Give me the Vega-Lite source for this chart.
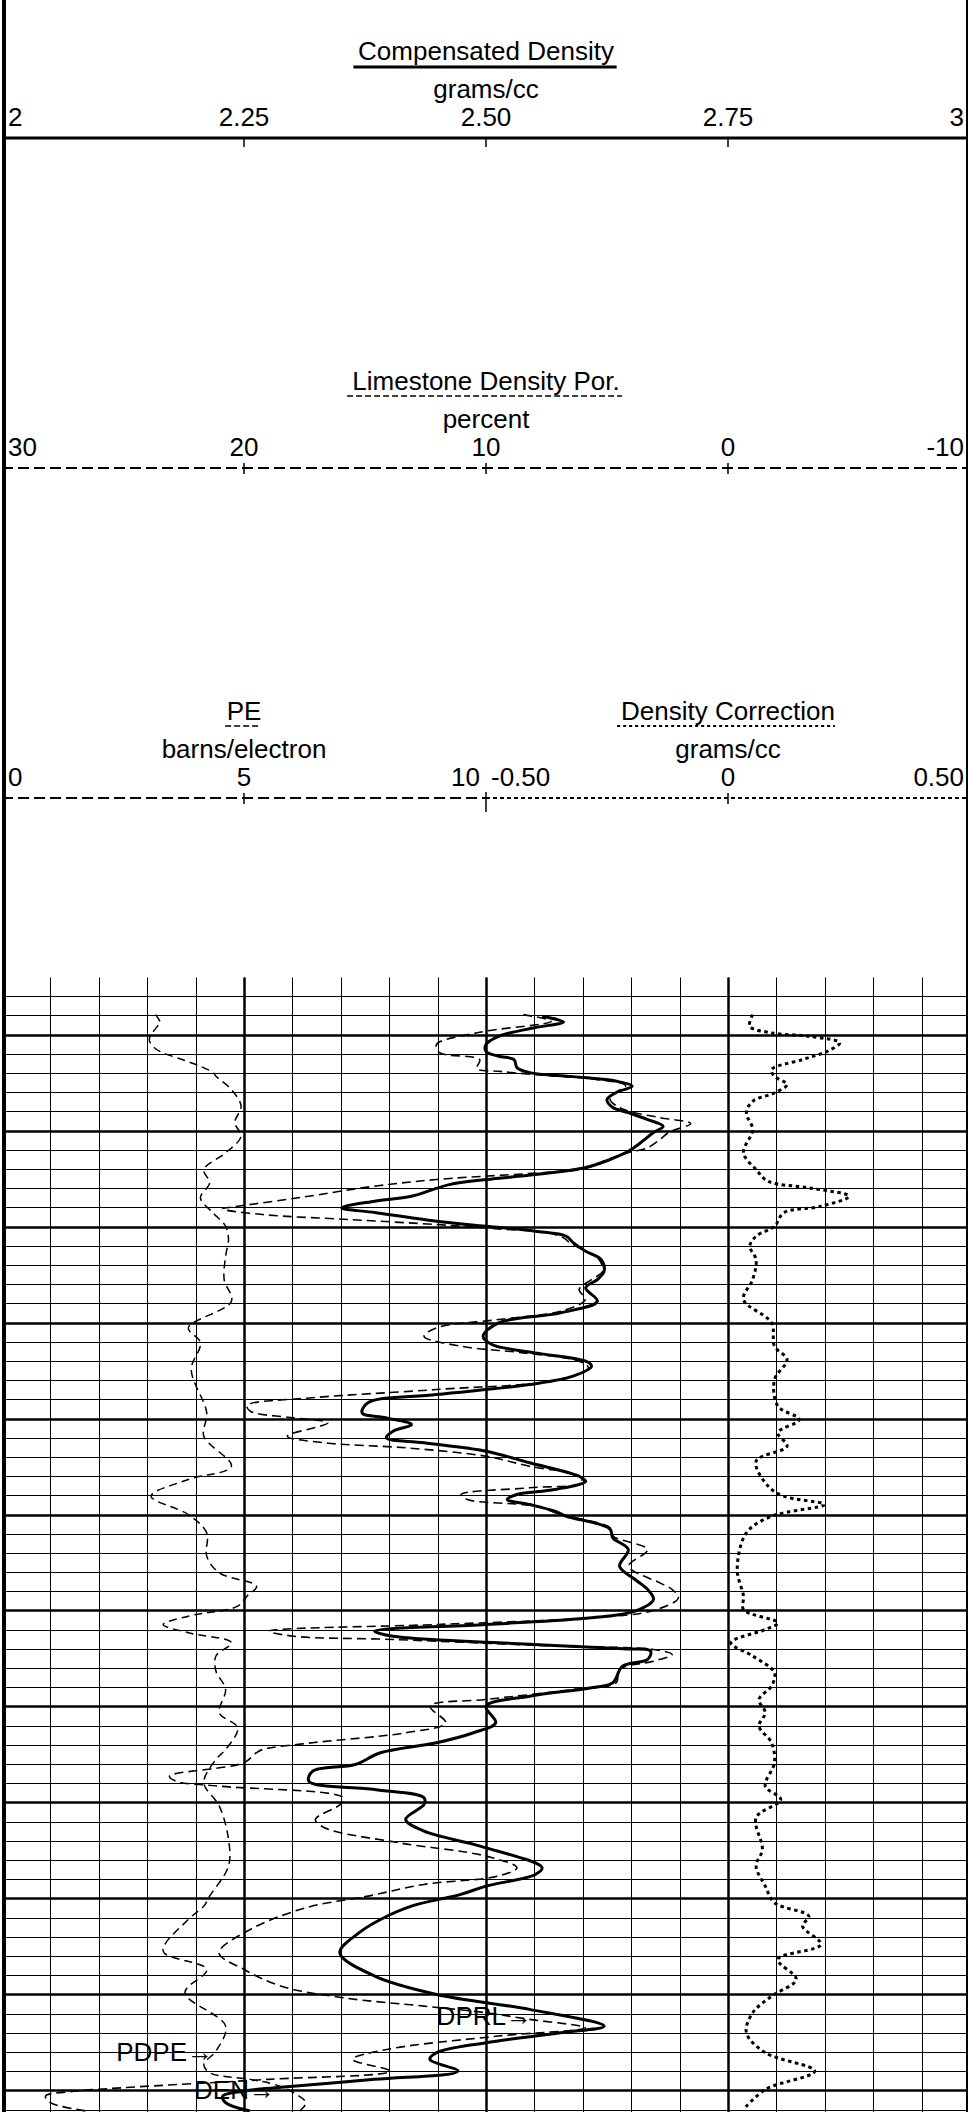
{
"$schema": "https://vega.github.io/schema/vega-lite/v6.json",
"background": "white",
"padding": 0,
"spacing": 0,
"config": {"view": {"stroke": null, "fill": "white"}, "font": "Liberation Sans", "text": {"font": "Liberation Sans", "color": "black"}},
"datasets": {
"cdTicks": [{"v":2,"t":"2"},{"v":2.25,"t":"2.25"},{"v":2.5,"t":"2.50"},{"v":2.75,"t":"2.75"},{"v":3,"t":"3"}],
"lsTicks": [{"v":30,"t":"30"},{"v":20,"t":"20"},{"v":10,"t":"10"},{"v":0,"t":"0"},{"v":-10,"t":"-10"}],
"peTicks": [{"v":0,"t":"0"},{"v":5,"t":"5"},{"v":10,"t":"10"}],
"dcTicks": [{"v":-0.5,"t":"-0.50"},{"v":0,"t":"0"},{"v":0.5,"t":"0.50"}],
"labels": [{"curve":"DPRL","text":"DPRL→","depth":112.4,"value":8.1},{"curve":"PDPE","text":"PDPE→","depth":116.15,"value":4.36},{"curve":"DEN","text":"DEN→","depth":120.07,"value":2.282}],
"den": [{"depth":8.09,"value":2.558},{"depth":8.68,"value":2.58},{"depth":9.27,"value":2.551},{"depth":10.18,"value":2.513},{"depth":11.04,"value":2.5},{"depth":11.74,"value":2.5},{"depth":12.26,"value":2.513},{"depth":12.6,"value":2.529},{"depth":13.44,"value":2.532},{"depth":13.96,"value":2.545},{"depth":14.38,"value":2.59},{"depth":14.86,"value":2.635},{"depth":15.39,"value":2.651},{"depth":16.01,"value":2.635},{"depth":16.77,"value":2.625},{"depth":17.6,"value":2.631},{"depth":18.13,"value":2.647},{"depth":18.85,"value":2.667},{"depth":19.55,"value":2.683},{"depth":20.21,"value":2.673},{"depth":21.25,"value":2.66},{"depth":22.16,"value":2.647},{"depth":23.02,"value":2.628},{"depth":23.85,"value":2.603},{"depth":24.58,"value":2.551},{"depth":25.1,"value":2.5},{"depth":25.63,"value":2.462},{"depth":26.84,"value":2.423},{"depth":27.36,"value":2.385},{"depth":28.05,"value":2.351},{"depth":28.54,"value":2.385},{"depth":29.45,"value":2.449},{"depth":29.97,"value":2.5},{"depth":30.49,"value":2.551},{"depth":31.01,"value":2.583},{"depth":31.67,"value":2.59},{"depth":32.57,"value":2.603},{"depth":33.44,"value":2.619},{"depth":34.66,"value":2.622},{"depth":35.52,"value":2.615},{"depth":36.39,"value":2.603},{"depth":37.78,"value":2.615},{"depth":38.99,"value":2.577},{"depth":40.03,"value":2.513},{"depth":41.43,"value":2.497},{"depth":42.29,"value":2.506},{"depth":43.16,"value":2.551},{"depth":44.03,"value":2.603},{"depth":44.55,"value":2.609},{"depth":45.59,"value":2.59},{"depth":46.46,"value":2.545},{"depth":47.5,"value":2.449},{"depth":48.36,"value":2.378},{"depth":49.41,"value":2.372},{"depth":49.93,"value":2.397},{"depth":50.63,"value":2.423},{"depth":51.32,"value":2.404},{"depth":52.01,"value":2.397},{"depth":52.53,"value":2.436},{"depth":53.41,"value":2.5},{"depth":54.61,"value":2.545},{"depth":56.01,"value":2.596},{"depth":56.53,"value":2.603},{"depth":57.4,"value":2.571},{"depth":57.92,"value":2.532},{"depth":58.44,"value":2.522},{"depth":58.96,"value":2.545},{"depth":59.66,"value":2.571},{"depth":60.18,"value":2.583},{"depth":61.49,"value":2.628},{"depth":62.43,"value":2.631},{"depth":63.65,"value":2.647},{"depth":65.39,"value":2.638},{"depth":66.77,"value":2.654},{"depth":67.81,"value":2.667},{"depth":68.85,"value":2.673},{"depth":70.07,"value":2.654},{"depth":70.76,"value":2.609},{"depth":71.46,"value":2.5},{"depth":72.16,"value":2.385},{"depth":72.68,"value":2.404},{"depth":73.36,"value":2.513},{"depth":73.99,"value":2.641},{"depth":74.24,"value":2.67},{"depth":75.1,"value":2.667},{"depth":75.8,"value":2.641},{"depth":77.53,"value":2.631},{"depth":78.05,"value":2.609},{"depth":78.93,"value":2.545},{"depth":79.97,"value":2.5},{"depth":81.7,"value":2.51},{"depth":82.74,"value":2.487},{"depth":83.78,"value":2.449},{"depth":84.82,"value":2.391},{"depth":86.04,"value":2.365},{"depth":86.74,"value":2.321},{"depth":87.78,"value":2.317},{"depth":88.65,"value":2.385},{"depth":89.51,"value":2.436},{"depth":90.21,"value":2.436},{"depth":91.77,"value":2.417},{"depth":92.99,"value":2.436},{"depth":94.55,"value":2.494},{"depth":96.8,"value":2.558},{"depth":97.5,"value":2.551},{"depth":98.72,"value":2.5},{"depth":99.58,"value":2.474},{"depth":100.8,"value":2.423},{"depth":102.19,"value":2.391},{"depth":103.57,"value":2.369},{"depth":105.66,"value":2.349},{"depth":108.09,"value":2.385},{"depth":110.0,"value":2.449},{"depth":111.56,"value":2.545},{"depth":113.3,"value":2.622},{"depth":113.99,"value":2.577},{"depth":115.03,"value":2.5},{"depth":116.07,"value":2.449},{"depth":116.77,"value":2.442},{"depth":117.99,"value":2.471},{"depth":118.85,"value":2.385},{"depth":119.72,"value":2.282},{"depth":120.07,"value":2.25},{"depth":120.59,"value":2.228},{"depth":121.28,"value":2.231},{"depth":122.15,"value":2.256}],
"dprl": [{"depth":7.92,"value":8.46},{"depth":8.61,"value":7.31},{"depth":9.76,"value":10.26},{"depth":11.04,"value":12.05},{"depth":11.88,"value":11.92},{"depth":12.6,"value":10.26},{"depth":13.54,"value":10.38},{"depth":13.82,"value":9.49},{"depth":14.17,"value":7.95},{"depth":14.69,"value":5.38},{"depth":15.31,"value":4.23},{"depth":16.01,"value":4.62},{"depth":16.77,"value":4.87},{"depth":17.6,"value":4.49},{"depth":17.99,"value":4.1},{"depth":18.65,"value":2.82},{"depth":19.27,"value":1.54},{"depth":20.18,"value":2.44},{"depth":20.94,"value":2.82},{"depth":21.8,"value":3.33},{"depth":22.29,"value":4.1},{"depth":23.02,"value":5.0},{"depth":23.96,"value":5.9},{"depth":24.34,"value":7.44},{"depth":25.1,"value":12.05},{"depth":25.8,"value":14.62},{"depth":26.98,"value":17.69},{"depth":27.89,"value":20.26},{"depth":28.16,"value":20.9},{"depth":28.75,"value":19.23},{"depth":29.27,"value":15.64},{"depth":29.79,"value":12.05},{"depth":30.24,"value":9.49},{"depth":30.66,"value":7.44},{"depth":31.18,"value":6.79},{"depth":31.67,"value":6.54},{"depth":32.57,"value":5.9},{"depth":33.44,"value":5.33},{"depth":34.66,"value":5.18},{"depth":35.52,"value":5.64},{"depth":36.56,"value":6.15},{"depth":37.6,"value":5.9},{"depth":38.82,"value":6.92},{"depth":39.69,"value":9.49},{"depth":40.55,"value":12.05},{"depth":41.43,"value":12.56},{"depth":42.47,"value":11.03},{"depth":43.16,"value":8.46},{"depth":44.03,"value":6.15},{"depth":44.72,"value":5.77},{"depth":45.94,"value":6.92},{"depth":46.98,"value":12.05},{"depth":47.84,"value":17.18},{"depth":48.65,"value":19.87},{"depth":49.24,"value":19.74},{"depth":49.93,"value":17.95},{"depth":50.45,"value":16.54},{"depth":51.84,"value":18.21},{"depth":52.53,"value":16.67},{"depth":53.05,"value":13.33},{"depth":53.93,"value":10.0},{"depth":54.97,"value":8.21},{"depth":56.01,"value":6.15},{"depth":56.7,"value":6.03},{"depth":57.22,"value":8.21},{"depth":57.92,"value":11.03},{"depth":58.44,"value":10.77},{"depth":59.13,"value":7.95},{"depth":60.0,"value":6.92},{"depth":61.39,"value":4.87},{"depth":62.26,"value":4.74},{"depth":63.65,"value":3.33},{"depth":65.39,"value":4.1},{"depth":67.12,"value":2.82},{"depth":67.81,"value":2.31},{"depth":68.68,"value":2.05},{"depth":70.0,"value":3.08},{"depth":70.76,"value":5.64},{"depth":71.46,"value":12.05},{"depth":72.16,"value":18.97},{"depth":72.68,"value":17.95},{"depth":73.02,"value":13.85},{"depth":73.72,"value":6.92},{"depth":74.06,"value":3.08},{"depth":74.58,"value":2.31},{"depth":75.28,"value":3.08},{"depth":76.15,"value":4.49},{"depth":77.53,"value":4.62},{"depth":78.23,"value":6.41},{"depth":79.27,"value":10.0},{"depth":79.97,"value":12.31},{"depth":81.7,"value":11.67},{"depth":82.74,"value":13.33},{"depth":83.78,"value":17.18},{"depth":84.48,"value":19.23},{"depth":84.82,"value":19.49},{"depth":85.86,"value":20.0},{"depth":87.26,"value":23.08},{"depth":87.78,"value":22.82},{"depth":88.3,"value":21.03},{"depth":89.51,"value":15.9},{"depth":90.21,"value":16.03},{"depth":91.77,"value":17.05},{"depth":92.64,"value":16.67},{"depth":94.2,"value":13.59},{"depth":95.59,"value":10.0},{"depth":96.8,"value":8.72},{"depth":97.67,"value":9.49},{"depth":98.54,"value":12.56},{"depth":99.76,"value":14.87},{"depth":100.97,"value":17.44},{"depth":103.23,"value":19.74},{"depth":105.66,"value":21.03},{"depth":107.4,"value":20.0},{"depth":109.14,"value":18.46},{"depth":110.35,"value":15.9},{"depth":111.22,"value":12.56},{"depth":111.91,"value":10.0},{"depth":112.6,"value":8.21},{"depth":113.47,"value":5.9},{"depth":114.34,"value":9.49},{"depth":115.73,"value":14.1},{"depth":116.77,"value":15.51},{"depth":117.99,"value":13.97},{"depth":118.85,"value":19.0},{"depth":119.72,"value":25.0},{"depth":120.07,"value":26.9},{"depth":120.59,"value":28.2},{"depth":121.28,"value":28.0},{"depth":122.15,"value":26.5}],
"pe": [{"depth":7.92,"value":3.17},{"depth":8.78,"value":3.27},{"depth":9.14,"value":3.21},{"depth":10.31,"value":3.05},{"depth":10.7,"value":3.05},{"depth":11.35,"value":3.14},{"depth":11.91,"value":3.33},{"depth":12.6,"value":3.72},{"depth":13.3,"value":4.1},{"depth":13.96,"value":4.36},{"depth":14.34,"value":4.42},{"depth":15.73,"value":4.74},{"depth":17.47,"value":4.94},{"depth":19.17,"value":4.81},{"depth":20.59,"value":4.94},{"depth":22.32,"value":4.62},{"depth":24.06,"value":4.17},{"depth":25.45,"value":4.29},{"depth":27.01,"value":4.1},{"depth":28.57,"value":4.36},{"depth":29.97,"value":4.62},{"depth":31.35,"value":4.68},{"depth":33.09,"value":4.62},{"depth":35.52,"value":4.59},{"depth":37.78,"value":4.74},{"depth":40.55,"value":3.85},{"depth":42.11,"value":4.1},{"depth":44.9,"value":3.91},{"depth":49.41,"value":4.23},{"depth":51.84,"value":4.17},{"depth":54.97,"value":4.74},{"depth":56.35,"value":3.85},{"depth":58.09,"value":3.08},{"depth":60.0,"value":3.85},{"depth":61.91,"value":4.23},{"depth":64.34,"value":4.23},{"depth":66.08,"value":4.49},{"depth":67.47,"value":5.26},{"depth":68.51,"value":5.06},{"depth":69.55,"value":4.87},{"depth":70.59,"value":3.85},{"depth":71.46,"value":3.33},{"depth":72.32,"value":3.85},{"depth":73.36,"value":4.74},{"depth":74.74,"value":4.42},{"depth":76.3,"value":4.42},{"depth":78.23,"value":4.62},{"depth":80.66,"value":4.49},{"depth":82.22,"value":4.87},{"depth":84.48,"value":4.62},{"depth":85.52,"value":4.42},{"depth":87.95,"value":4.17},{"depth":90.38,"value":4.49},{"depth":93.85,"value":4.68},{"depth":96.63,"value":4.68},{"depth":99.76,"value":4.29},{"depth":100.8,"value":4.17},{"depth":102.19,"value":3.85},{"depth":105.49,"value":3.33},{"depth":107.4,"value":4.23},{"depth":109.82,"value":3.78},{"depth":113.3,"value":4.62},{"depth":115.9,"value":4.42},{"depth":117.29,"value":4.17},{"depth":118.15,"value":4.29},{"depth":118.85,"value":5.13},{"depth":119.4,"value":5.64},{"depth":120.25,"value":6.03},{"depth":121.3,"value":6.28},{"depth":122.15,"value":6.15}],
"dc": [{"depth":7.92,"value":0.051},{"depth":9.14,"value":0.045},{"depth":9.82,"value":0.09},{"depth":10.18,"value":0.167},{"depth":10.86,"value":0.231},{"depth":11.74,"value":0.205},{"depth":12.6,"value":0.154},{"depth":13.65,"value":0.09},{"depth":14.34,"value":0.096},{"depth":15.21,"value":0.122},{"depth":16.07,"value":0.096},{"depth":16.95,"value":0.051},{"depth":18.16,"value":0.038},{"depth":19.9,"value":0.051},{"depth":22.32,"value":0.032},{"depth":24.06,"value":0.058},{"depth":25.28,"value":0.083},{"depth":25.97,"value":0.167},{"depth":26.84,"value":0.25},{"depth":27.89,"value":0.192},{"depth":28.57,"value":0.115},{"depth":29.97,"value":0.096},{"depth":31.01,"value":0.058},{"depth":32.05,"value":0.045},{"depth":33.44,"value":0.058},{"depth":35.52,"value":0.051},{"depth":37.6,"value":0.032},{"depth":40.03,"value":0.09},{"depth":42.47,"value":0.096},{"depth":43.85,"value":0.122},{"depth":45.94,"value":0.096},{"depth":48.72,"value":0.103},{"depth":50.1,"value":0.147},{"depth":51.49,"value":0.103},{"depth":52.88,"value":0.122},{"depth":54.45,"value":0.058},{"depth":57.05,"value":0.083},{"depth":58.09,"value":0.115},{"depth":58.96,"value":0.199},{"depth":60.18,"value":0.09},{"depth":61.91,"value":0.038},{"depth":65.73,"value":0.019},{"depth":68.51,"value":0.032},{"depth":69.9,"value":0.032},{"depth":71.28,"value":0.103},{"depth":71.98,"value":0.077},{"depth":73.36,"value":0.006},{"depth":74.74,"value":0.051},{"depth":76.48,"value":0.096},{"depth":77.86,"value":0.09},{"depth":79.27,"value":0.064},{"depth":80.66,"value":0.077},{"depth":82.05,"value":0.064},{"depth":83.78,"value":0.09},{"depth":85.86,"value":0.096},{"depth":88.3,"value":0.077},{"depth":89.69,"value":0.109},{"depth":91.59,"value":0.058},{"depth":94.9,"value":0.071},{"depth":96.63,"value":0.058},{"depth":98.72,"value":0.077},{"depth":100.45,"value":0.096},{"depth":101.84,"value":0.167},{"depth":102.88,"value":0.154},{"depth":104.79,"value":0.192},{"depth":106.35,"value":0.103},{"depth":108.43,"value":0.141},{"depth":110.18,"value":0.09},{"depth":111.91,"value":0.051},{"depth":113.99,"value":0.038},{"depth":116.07,"value":0.077},{"depth":117.99,"value":0.179},{"depth":119.9,"value":0.077},{"depth":121.98,"value":0.032}]
},
"vconcat": [
{
"width": 968, "height": 977,
"resolve": {"scale": {"x": "independent"}},
"layer": [
{"layer": [
{"data": {"values": [{}]}, "mark": {"type": "text", "fontSize": 26, "align": "center", "baseline": "alphabetic"}, "encoding": {"x": {"datum": 2.5, "type": "quantitative", "scale": {"domain": [2, 3], "nice": false, "zero": false}, "axis": null}, "y": {"datum": 60, "type": "quantitative", "scale": {"domain": [0, 977], "reverse": true, "nice": false, "zero": false}, "axis": null}, "text": {"value": "Compensated Density"}}},
{"data": {"values": [{}]}, "mark": {"type": "rule", "color": "black", "strokeWidth": 3}, "encoding": {"x": {"datum": 2.363, "type": "quantitative", "scale": {"domain": [2, 3], "nice": false, "zero": false}, "axis": null}, "x2": {"datum": 2.635}, "y": {"datum": 67, "type": "quantitative", "scale": {"domain": [0, 977], "reverse": true, "nice": false, "zero": false}, "axis": null}}},
{"data": {"values": [{}]}, "mark": {"type": "text", "fontSize": 26, "align": "center", "baseline": "alphabetic"}, "encoding": {"x": {"datum": 2.5, "type": "quantitative", "scale": {"domain": [2, 3], "nice": false, "zero": false}, "axis": null}, "y": {"datum": 98, "type": "quantitative", "scale": {"domain": [0, 977], "reverse": true, "nice": false, "zero": false}, "axis": null}, "text": {"value": "grams/cc"}}},
{"data": {"name": "cdTicks"}, "transform": [{"filter": "datum.v == 2"}], "mark": {"type": "text", "fontSize": 26, "align": "left", "dx": 6, "baseline": "alphabetic"}, "encoding": {"x": {"field": "v", "type": "quantitative", "scale": {"domain": [2, 3], "nice": false, "zero": false}, "axis": null}, "y": {"datum": 126, "type": "quantitative", "scale": {"domain": [0, 977], "reverse": true, "nice": false, "zero": false}, "axis": null}, "text": {"field": "t"}}},
{"data": {"name": "cdTicks"}, "transform": [{"filter": "datum.v > 2 && datum.v < 3"}], "mark": {"type": "text", "fontSize": 26, "align": "center", "baseline": "alphabetic"}, "encoding": {"x": {"field": "v", "type": "quantitative", "scale": {"domain": [2, 3], "nice": false, "zero": false}, "axis": null}, "y": {"datum": 126, "type": "quantitative", "scale": {"domain": [0, 977], "reverse": true, "nice": false, "zero": false}, "axis": null}, "text": {"field": "t"}}},
{"data": {"name": "cdTicks"}, "transform": [{"filter": "datum.v == 3"}], "mark": {"type": "text", "fontSize": 26, "align": "right", "dx": -6, "baseline": "alphabetic"}, "encoding": {"x": {"field": "v", "type": "quantitative", "scale": {"domain": [2, 3], "nice": false, "zero": false}, "axis": null}, "y": {"datum": 126, "type": "quantitative", "scale": {"domain": [0, 977], "reverse": true, "nice": false, "zero": false}, "axis": null}, "text": {"field": "t"}}},
{"data": {"values": [{}]}, "mark": {"type": "rule", "color": "black", "strokeWidth": 3}, "encoding": {"x": {"datum": 2, "type": "quantitative", "scale": {"domain": [2, 3], "nice": false, "zero": false}, "axis": null}, "x2": {"datum": 3}, "y": {"datum": 138, "type": "quantitative", "scale": {"domain": [0, 977], "reverse": true, "nice": false, "zero": false}, "axis": null}}},
{"data": {"name": "cdTicks"}, "transform": [{"filter": "datum.v > 2 && datum.v < 3"}], "mark": {"type": "rule", "color": "black", "strokeWidth": 1.5}, "encoding": {"x": {"field": "v", "type": "quantitative", "scale": {"domain": [2, 3], "nice": false, "zero": false}, "axis": null}, "y": {"datum": 138, "type": "quantitative", "scale": {"domain": [0, 977], "reverse": true, "nice": false, "zero": false}, "axis": null}, "y2": {"datum": 147}}},
{"data": {"values": [{}]}, "mark": {"type": "rule", "color": "black", "strokeWidth": 8, "clip": true}, "encoding": {"x": {"datum": 2, "type": "quantitative", "scale": {"domain": [2, 3], "nice": false, "zero": false}, "axis": null}}},
{"data": {"values": [{}]}, "mark": {"type": "rule", "color": "black", "strokeWidth": 8, "clip": true}, "encoding": {"x": {"datum": 3, "type": "quantitative", "scale": {"domain": [2, 3], "nice": false, "zero": false}, "axis": null}}}
]},
{"layer": [
{"data": {"values": [{}]}, "mark": {"type": "text", "fontSize": 26, "align": "center", "baseline": "alphabetic"}, "encoding": {"x": {"datum": 10, "type": "quantitative", "scale": {"domain": [-10, 30], "reverse": true, "nice": false, "zero": false}, "axis": null}, "y": {"datum": 390, "type": "quantitative", "scale": {"domain": [0, 977], "reverse": true, "nice": false, "zero": false}, "axis": null}, "text": {"value": "Limestone Density Por."}}},
{"data": {"values": [{}]}, "mark": {"type": "rule", "color": "black", "strokeWidth": 1.5, "strokeDash": [6, 3]}, "encoding": {"x": {"datum": 15.74, "type": "quantitative", "scale": {"domain": [-10, 30], "reverse": true, "nice": false, "zero": false}, "axis": null}, "x2": {"datum": 4.38}, "y": {"datum": 396, "type": "quantitative", "scale": {"domain": [0, 977], "reverse": true, "nice": false, "zero": false}, "axis": null}}},
{"data": {"values": [{}]}, "mark": {"type": "text", "fontSize": 26, "align": "center", "baseline": "alphabetic"}, "encoding": {"x": {"datum": 10, "type": "quantitative", "scale": {"domain": [-10, 30], "reverse": true, "nice": false, "zero": false}, "axis": null}, "y": {"datum": 428, "type": "quantitative", "scale": {"domain": [0, 977], "reverse": true, "nice": false, "zero": false}, "axis": null}, "text": {"value": "percent"}}},
{"data": {"name": "lsTicks"}, "transform": [{"filter": "datum.v == 30"}], "mark": {"type": "text", "fontSize": 26, "align": "left", "dx": 6, "baseline": "alphabetic"}, "encoding": {"x": {"field": "v", "type": "quantitative", "scale": {"domain": [-10, 30], "reverse": true, "nice": false, "zero": false}, "axis": null}, "y": {"datum": 456, "type": "quantitative", "scale": {"domain": [0, 977], "reverse": true, "nice": false, "zero": false}, "axis": null}, "text": {"field": "t"}}},
{"data": {"name": "lsTicks"}, "transform": [{"filter": "datum.v < 30 && datum.v > -10"}], "mark": {"type": "text", "fontSize": 26, "align": "center", "baseline": "alphabetic"}, "encoding": {"x": {"field": "v", "type": "quantitative", "scale": {"domain": [-10, 30], "reverse": true, "nice": false, "zero": false}, "axis": null}, "y": {"datum": 456, "type": "quantitative", "scale": {"domain": [0, 977], "reverse": true, "nice": false, "zero": false}, "axis": null}, "text": {"field": "t"}}},
{"data": {"name": "lsTicks"}, "transform": [{"filter": "datum.v == -10"}], "mark": {"type": "text", "fontSize": 26, "align": "right", "dx": -6, "baseline": "alphabetic"}, "encoding": {"x": {"field": "v", "type": "quantitative", "scale": {"domain": [-10, 30], "reverse": true, "nice": false, "zero": false}, "axis": null}, "y": {"datum": 456, "type": "quantitative", "scale": {"domain": [0, 977], "reverse": true, "nice": false, "zero": false}, "axis": null}, "text": {"field": "t"}}},
{"data": {"values": [{}]}, "mark": {"type": "rule", "color": "black", "strokeWidth": 2, "strokeDash": [11, 5]}, "encoding": {"x": {"datum": 30, "type": "quantitative", "scale": {"domain": [-10, 30], "reverse": true, "nice": false, "zero": false}, "axis": null}, "x2": {"datum": -10}, "y": {"datum": 468, "type": "quantitative", "scale": {"domain": [0, 977], "reverse": true, "nice": false, "zero": false}, "axis": null}}},
{"data": {"name": "lsTicks"}, "transform": [{"filter": "datum.v < 30 && datum.v > -10"}], "mark": {"type": "rule", "color": "black", "strokeWidth": 1.5}, "encoding": {"x": {"field": "v", "type": "quantitative", "scale": {"domain": [-10, 30], "reverse": true, "nice": false, "zero": false}, "axis": null}, "y": {"datum": 463, "type": "quantitative", "scale": {"domain": [0, 977], "reverse": true, "nice": false, "zero": false}, "axis": null}, "y2": {"datum": 474}}}
]},
{"layer": [
{"data": {"values": [{}]}, "mark": {"type": "text", "fontSize": 26, "align": "center", "baseline": "alphabetic"}, "encoding": {"x": {"datum": 5, "type": "quantitative", "scale": {"domain": [0, 20], "nice": false, "zero": false}, "axis": null}, "y": {"datum": 720, "type": "quantitative", "scale": {"domain": [0, 977], "reverse": true, "nice": false, "zero": false}, "axis": null}, "text": {"value": "PE"}}},
{"data": {"values": [{}]}, "mark": {"type": "rule", "color": "black", "strokeWidth": 1.5, "strokeDash": [6, 3]}, "encoding": {"x": {"datum": 4.61, "type": "quantitative", "scale": {"domain": [0, 20], "nice": false, "zero": false}, "axis": null}, "x2": {"datum": 5.33}, "y": {"datum": 726, "type": "quantitative", "scale": {"domain": [0, 977], "reverse": true, "nice": false, "zero": false}, "axis": null}}},
{"data": {"values": [{}]}, "mark": {"type": "text", "fontSize": 26, "align": "center", "baseline": "alphabetic"}, "encoding": {"x": {"datum": 5, "type": "quantitative", "scale": {"domain": [0, 20], "nice": false, "zero": false}, "axis": null}, "y": {"datum": 758, "type": "quantitative", "scale": {"domain": [0, 977], "reverse": true, "nice": false, "zero": false}, "axis": null}, "text": {"value": "barns/electron"}}},
{"data": {"name": "peTicks"}, "transform": [{"filter": "datum.v == 0"}], "mark": {"type": "text", "fontSize": 26, "align": "left", "dx": 6, "baseline": "alphabetic"}, "encoding": {"x": {"field": "v", "type": "quantitative", "scale": {"domain": [0, 20], "nice": false, "zero": false}, "axis": null}, "y": {"datum": 786, "type": "quantitative", "scale": {"domain": [0, 977], "reverse": true, "nice": false, "zero": false}, "axis": null}, "text": {"field": "t"}}},
{"data": {"name": "peTicks"}, "transform": [{"filter": "datum.v == 5"}], "mark": {"type": "text", "fontSize": 26, "align": "center", "baseline": "alphabetic"}, "encoding": {"x": {"field": "v", "type": "quantitative", "scale": {"domain": [0, 20], "nice": false, "zero": false}, "axis": null}, "y": {"datum": 786, "type": "quantitative", "scale": {"domain": [0, 977], "reverse": true, "nice": false, "zero": false}, "axis": null}, "text": {"field": "t"}}},
{"data": {"name": "peTicks"}, "transform": [{"filter": "datum.v == 10"}], "mark": {"type": "text", "fontSize": 26, "align": "right", "dx": -6, "baseline": "alphabetic"}, "encoding": {"x": {"field": "v", "type": "quantitative", "scale": {"domain": [0, 20], "nice": false, "zero": false}, "axis": null}, "y": {"datum": 786, "type": "quantitative", "scale": {"domain": [0, 977], "reverse": true, "nice": false, "zero": false}, "axis": null}, "text": {"field": "t"}}},
{"data": {"values": [{}]}, "mark": {"type": "rule", "color": "black", "strokeWidth": 2, "strokeDash": [11, 5]}, "encoding": {"x": {"datum": 0, "type": "quantitative", "scale": {"domain": [0, 20], "nice": false, "zero": false}, "axis": null}, "x2": {"datum": 10}, "y": {"datum": 798, "type": "quantitative", "scale": {"domain": [0, 977], "reverse": true, "nice": false, "zero": false}, "axis": null}}},
{"data": {"name": "peTicks"}, "transform": [{"filter": "datum.v == 5"}], "mark": {"type": "rule", "color": "black", "strokeWidth": 1.5}, "encoding": {"x": {"field": "v", "type": "quantitative", "scale": {"domain": [0, 20], "nice": false, "zero": false}, "axis": null}, "y": {"datum": 793, "type": "quantitative", "scale": {"domain": [0, 977], "reverse": true, "nice": false, "zero": false}, "axis": null}, "y2": {"datum": 804}}},
{"data": {"name": "peTicks"}, "transform": [{"filter": "datum.v == 10"}], "mark": {"type": "rule", "color": "black", "strokeWidth": 1.5}, "encoding": {"x": {"field": "v", "type": "quantitative", "scale": {"domain": [0, 20], "nice": false, "zero": false}, "axis": null}, "y": {"datum": 792, "type": "quantitative", "scale": {"domain": [0, 977], "reverse": true, "nice": false, "zero": false}, "axis": null}, "y2": {"datum": 812}}}
]},
{"layer": [
{"data": {"values": [{}]}, "mark": {"type": "text", "fontSize": 26, "align": "center", "baseline": "alphabetic"}, "encoding": {"x": {"datum": 0, "type": "quantitative", "scale": {"domain": [-1.5, 0.5], "nice": false, "zero": false}, "axis": null}, "y": {"datum": 720, "type": "quantitative", "scale": {"domain": [0, 977], "reverse": true, "nice": false, "zero": false}, "axis": null}, "text": {"value": "Density Correction"}}},
{"data": {"values": [{}]}, "mark": {"type": "rule", "color": "black", "strokeWidth": 2, "strokeDash": [3, 3]}, "encoding": {"x": {"datum": -0.229, "type": "quantitative", "scale": {"domain": [-1.5, 0.5], "nice": false, "zero": false}, "axis": null}, "x2": {"datum": 0.221}, "y": {"datum": 726, "type": "quantitative", "scale": {"domain": [0, 977], "reverse": true, "nice": false, "zero": false}, "axis": null}}},
{"data": {"values": [{}]}, "mark": {"type": "text", "fontSize": 26, "align": "center", "baseline": "alphabetic"}, "encoding": {"x": {"datum": 0, "type": "quantitative", "scale": {"domain": [-1.5, 0.5], "nice": false, "zero": false}, "axis": null}, "y": {"datum": 758, "type": "quantitative", "scale": {"domain": [0, 977], "reverse": true, "nice": false, "zero": false}, "axis": null}, "text": {"value": "grams/cc"}}},
{"data": {"name": "dcTicks"}, "transform": [{"filter": "datum.v == -0.5"}], "mark": {"type": "text", "fontSize": 26, "align": "left", "dx": 5, "baseline": "alphabetic"}, "encoding": {"x": {"field": "v", "type": "quantitative", "scale": {"domain": [-1.5, 0.5], "nice": false, "zero": false}, "axis": null}, "y": {"datum": 786, "type": "quantitative", "scale": {"domain": [0, 977], "reverse": true, "nice": false, "zero": false}, "axis": null}, "text": {"field": "t"}}},
{"data": {"name": "dcTicks"}, "transform": [{"filter": "datum.v == 0"}], "mark": {"type": "text", "fontSize": 26, "align": "center", "baseline": "alphabetic"}, "encoding": {"x": {"field": "v", "type": "quantitative", "scale": {"domain": [-1.5, 0.5], "nice": false, "zero": false}, "axis": null}, "y": {"datum": 786, "type": "quantitative", "scale": {"domain": [0, 977], "reverse": true, "nice": false, "zero": false}, "axis": null}, "text": {"field": "t"}}},
{"data": {"name": "dcTicks"}, "transform": [{"filter": "datum.v == 0.5"}], "mark": {"type": "text", "fontSize": 26, "align": "right", "dx": -6, "baseline": "alphabetic"}, "encoding": {"x": {"field": "v", "type": "quantitative", "scale": {"domain": [-1.5, 0.5], "nice": false, "zero": false}, "axis": null}, "y": {"datum": 786, "type": "quantitative", "scale": {"domain": [0, 977], "reverse": true, "nice": false, "zero": false}, "axis": null}, "text": {"field": "t"}}},
{"data": {"values": [{}]}, "mark": {"type": "rule", "color": "black", "strokeWidth": 2, "strokeDash": [4, 3]}, "encoding": {"x": {"datum": -0.5, "type": "quantitative", "scale": {"domain": [-1.5, 0.5], "nice": false, "zero": false}, "axis": null}, "x2": {"datum": 0.5}, "y": {"datum": 798, "type": "quantitative", "scale": {"domain": [0, 977], "reverse": true, "nice": false, "zero": false}, "axis": null}}},
{"data": {"name": "dcTicks"}, "transform": [{"filter": "datum.v == 0"}], "mark": {"type": "rule", "color": "black", "strokeWidth": 1.5}, "encoding": {"x": {"field": "v", "type": "quantitative", "scale": {"domain": [-1.5, 0.5], "nice": false, "zero": false}, "axis": null}, "y": {"datum": 793, "type": "quantitative", "scale": {"domain": [0, 977], "reverse": true, "nice": false, "zero": false}, "axis": null}, "y2": {"datum": 804}}}
]}
]
},
{
"width": 968, "height": 1135,
"resolve": {"scale": {"x": "independent", "y": "independent"}},
"layer": [
{"data": {"name": "den"}, "mark": {"type": "line", "color": "black", "strokeWidth": 3, "interpolate": "catmull-rom"}, "encoding": {"x": {"field": "value", "type": "quantitative", "scale": {"domain": [2, 3], "nice": false, "zero": false}, "axis": {"orient": "bottom", "title": null, "labels": false, "ticks": false, "domain": false, "grid": true, "gridColor": "black", "gridOpacity": 1, "gridWidth": 1, "values": [2.05, 2.1, 2.15, 2.2, 2.25, 2.3, 2.35, 2.4, 2.45, 2.5, 2.55, 2.6, 2.65, 2.7, 2.75, 2.8, 2.85, 2.9, 2.95]}}, "y": {"field": "depth", "type": "quantitative", "scale": {"domain": [4, 122.25], "reverse": true, "nice": false, "zero": false}, "axis": {"orient": "left", "title": null, "labels": false, "ticks": false, "domain": false, "grid": true, "gridColor": "black", "gridOpacity": 1, "gridWidth": 1, "values": [6, 8, 10, 12, 14, 16, 18, 20, 22, 24, 26, 28, 30, 32, 34, 36, 38, 40, 42, 44, 46, 48, 50, 52, 54, 56, 58, 60, 62, 64, 66, 68, 70, 72, 74, 76, 78, 80, 82, 84, 86, 88, 90, 92, 94, 96, 98, 100, 102, 104, 106, 108, 110, 112, 114, 116, 118, 120, 122]}}, "order": {"field": "depth", "type": "quantitative"}}},
{"data": {"name": "labels"}, "transform": [{"filter": "datum.curve == 'DEN'"}], "mark": {"type": "text", "fontSize": 26, "align": "right", "baseline": "middle"}, "encoding": {"x": {"field": "value", "type": "quantitative", "scale": {"domain": [2, 3], "nice": false, "zero": false}, "axis": {"orient": "bottom", "title": null, "labels": false, "ticks": false, "domain": false, "grid": true, "gridColor": "black", "gridOpacity": 1, "gridWidth": 2.5, "values": [2.25, 2.5, 2.75]}}, "y": {"field": "depth", "type": "quantitative", "scale": {"domain": [4, 122.25], "reverse": true, "nice": false, "zero": false}, "axis": {"orient": "left", "title": null, "labels": false, "ticks": false, "domain": false, "grid": true, "gridColor": "black", "gridOpacity": 1, "gridWidth": 2.5, "values": [10, 20, 30, 40, 50, 60, 70, 80, 90, 100, 110, 120]}}, "text": {"field": "text"}}},
{"data": {"name": "dprl"}, "mark": {"type": "line", "color": "black", "strokeWidth": 1.6, "strokeDash": [9, 5], "interpolate": "catmull-rom"}, "encoding": {"x": {"field": "value", "type": "quantitative", "scale": {"domain": [-10, 30], "reverse": true, "nice": false, "zero": false}, "axis": null}, "y": {"field": "depth", "type": "quantitative", "scale": {"domain": [4, 122.25], "reverse": true, "nice": false, "zero": false}, "axis": null}, "order": {"field": "depth", "type": "quantitative"}}},
{"data": {"name": "labels"}, "transform": [{"filter": "datum.curve == 'DPRL'"}], "mark": {"type": "text", "fontSize": 26, "align": "right", "baseline": "middle"}, "encoding": {"x": {"field": "value", "type": "quantitative", "scale": {"domain": [-10, 30], "reverse": true, "nice": false, "zero": false}, "axis": null}, "y": {"field": "depth", "type": "quantitative", "scale": {"domain": [4, 122.25], "reverse": true, "nice": false, "zero": false}, "axis": null}, "text": {"field": "text"}}},
{"data": {"name": "pe"}, "mark": {"type": "line", "color": "black", "strokeWidth": 1.5, "strokeDash": [8, 5], "interpolate": "catmull-rom"}, "encoding": {"x": {"field": "value", "type": "quantitative", "scale": {"domain": [0, 20], "nice": false, "zero": false}, "axis": null}, "y": {"field": "depth", "type": "quantitative", "scale": {"domain": [4, 122.25], "reverse": true, "nice": false, "zero": false}, "axis": null}, "order": {"field": "depth", "type": "quantitative"}}},
{"data": {"name": "labels"}, "transform": [{"filter": "datum.curve == 'PDPE'"}], "mark": {"type": "text", "fontSize": 26, "align": "right", "baseline": "middle"}, "encoding": {"x": {"field": "value", "type": "quantitative", "scale": {"domain": [0, 20], "nice": false, "zero": false}, "axis": null}, "y": {"field": "depth", "type": "quantitative", "scale": {"domain": [4, 122.25], "reverse": true, "nice": false, "zero": false}, "axis": null}, "text": {"field": "text"}}},
{"data": {"name": "dc"}, "mark": {"type": "line", "color": "black", "strokeWidth": 3, "strokeDash": [3.5, 3.5], "interpolate": "catmull-rom"}, "encoding": {"x": {"field": "value", "type": "quantitative", "scale": {"domain": [-1.5, 0.5], "nice": false, "zero": false}, "axis": null}, "y": {"field": "depth", "type": "quantitative", "scale": {"domain": [4, 122.25], "reverse": true, "nice": false, "zero": false}, "axis": null}, "order": {"field": "depth", "type": "quantitative"}}},
{"data": {"values": [{}]}, "mark": {"type": "rule", "color": "black", "strokeWidth": 8, "clip": true}, "encoding": {"x": {"datum": 2, "type": "quantitative", "scale": {"domain": [2, 3], "nice": false, "zero": false}, "axis": null}}},
{"data": {"values": [{}]}, "mark": {"type": "rule", "color": "black", "strokeWidth": 8, "clip": true}, "encoding": {"x": {"datum": 3, "type": "quantitative", "scale": {"domain": [2, 3], "nice": false, "zero": false}, "axis": null}}}
]
}
]
}
